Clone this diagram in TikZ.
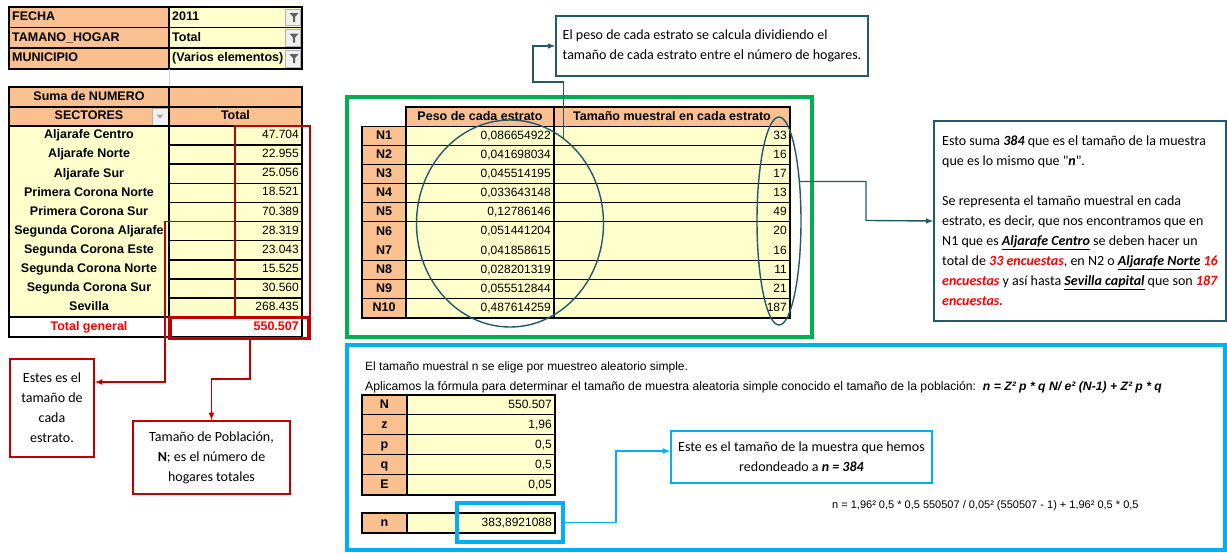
\documentclass[tikz,border=0pt]{standalone}
\usepackage{fontspec}
\setmainfont{Liberation Sans}
\newfontfamily\calibri{Carlito}
\usetikzlibrary{positioning}
\usetikzlibrary{shapes.geometric}
\definecolor{CellOrange}{HTML}{FAC090}
\definecolor{CellYellow}{HTML}{FFFFCC}
\definecolor{DarkRed}{HTML}{C00000}
\definecolor{DarkTeal}{HTML}{24596B}
\definecolor{FrameGreen}{HTML}{00B050}
\definecolor{FrameBlue}{HTML}{00B0F0}
\definecolor{LightRed}{HTML}{FF0000}
\newcommand{\redenc}[1]{\textcolor{LightRed}{\textbf{\textit{#1}}}}
\newcommand{\zona}[1]{\underline{\textbf{\textit{#1}}}}
\tikzset{
  val/.style={anchor=east, inner sep=1pt, text height=8.6pt, text depth=2.4pt,
    font=\fontsize{12}{12}\selectfont},
  lab/.style={inner sep=1pt, text height=9pt, text depth=2.5pt,
    font=\fontsize{12.5}{13}\selectfont\bfseries},
  rule/.style={line width=1.6pt, black},
  note/.style={draw, line width=1.6pt, inner sep=0pt, align=center,
    font=\calibri\fontsize{14}{20}\selectfont},
  redarrow/.style={DarkRed, line width=1.6pt, -latex},
  tealarrow/.style={DarkTeal, line width=1.4pt, -latex},
  bluearrow/.style={FrameBlue, line width=1.6pt, -latex},
  filterbtn/.style={draw=gray!60, fill=gray!12, line width=0.6pt},
}

\begin{document}
\begin{tikzpicture}[x=1pt,y=-1pt]
  \useasboundingbox (0,0) rectangle (1227,552);

  % filter fields of the pivot table
  \foreach \lab/\val [count=\i from 0] in {FECHA/2011,TAMANO\_HOGAR/Total,MUNICIPIO/(Varios elementos)}
  {
    \fill[CellOrange] (9,7+20.6*\i) rectangle ++(160,20.6);
    \fill[CellYellow] (169,7+20.6*\i) rectangle ++(133,20.6);
    \node[lab, anchor=west] (f-\i) at (11,17.3+20.6*\i) {\lab};
    \node[lab, anchor=west] (v-\i) at (171,17.3+20.6*\i) {\val};
    \draw[filterbtn] (285.5,9+20.6*\i) rectangle ++(15,16.6);
    \fill[gray!75!black] (289.5,13+20.6*\i) -- ++(9,0) -- ++(-3.5,4) -- ++(0,5)
      -- ++(-2,0) -- ++(0,-5) -- cycle;
  }
  \draw[rule] (9,7) rectangle (302,68.8);
  \draw[rule] (9,27.6) -- (302,27.6) (9,48.2) -- (302,48.2) (169,7) -- (169,68.8);
  \draw[gray!35, line width=0.8pt] (169,68.8) -- (169,87);

  % pivot table body
  \fill[CellOrange] (9,87) rectangle (302,126);
  \fill[CellYellow] (9,126) rectangle (302,317);
  \node[lab] (suma) at (89,97) {Suma de NUMERO};
  \node[lab] (sectores) at (89,116.5) {SECTORES};
  \node[lab] (total) at (235.5,116.5) {Total};
  \draw[filterbtn] (152,108.5) rectangle (168,125);
  \fill[gray!70] (156.5,114.5) -- (163.5,114.5) -- (160,118.5) -- cycle;
  \foreach \name/\num [count=\k from 0] in {Aljarafe Centro/47.704,Aljarafe Norte/22.955,
    Aljarafe Sur/25.056,Primera Corona Norte/18.521,Primera Corona Sur/70.389,
    Segunda Corona Aljarafe/28.319,Segunda Corona Este/23.043,Segunda Corona Norte/15.525,
    Segunda Corona Sur/30.560,Sevilla/268.435}
  {
    \node[lab] (s-\k) at (89,135.55+19.1*\k) {\name};
    \node[val] (n-\k) at (300,135.55+19.1*\k) {\num};
    \draw[rule] (169,145.1+19.1*\k) -- (302,145.1+19.1*\k);
  }
  \node[lab, text=LightRed] (totgen) at (89,327) {Total general};
  \node[lab, text=LightRed, anchor=east] (totval) at (300,327) {550.507};
  \draw[rule] (9,87) rectangle (302,337);
  \draw[rule] (9,107) -- (302,107) (9,126) -- (302,126) (9,317) -- (302,317) (169,87) -- (169,337);

  % red frames and their notes
  \node[draw=DarkRed, line width=1.6pt, minimum width=75pt, minimum height=191pt, inner sep=0pt] (sectframe) at (272.5,221.5) {};
  \node[draw=DarkRed, line width=3.5pt, minimum width=139pt, minimum height=21pt, inner sep=0pt] (totframe) at (239.5,328) {};
  \node[note, draw=DarkRed, minimum width=84pt, minimum height=98pt] (estrato) at (52,408) {Estes es el\\tamaño de\\cada\\estrato.};
  \node[note, draw=DarkRed, minimum width=157pt, minimum height=73pt] (poblacion) at (211.5,457.5) {Tamaño de Población,\\\textbf{N}; es el número de\\hogares totales};
  \coordinate (bendA) at (165,382);
  \coordinate (bendB) at (250,379);
  \draw[redarrow] (sectframe.west) -| (bendA) -- (bendA -| estrato.east);
  \draw[redarrow] (bendB |- totframe.south) -- (bendB) -| (poblacion.north);

  % stratum table
  \draw[FrameGreen, line width=3.5pt] (347,97) rectangle (812,337);
  \fill[CellOrange] (406,107) rectangle (790,126.5);
  \node[lab] (h-1) at (480,116.8) {Peso de cada estrato};
  \node[lab] (h-2) at (672,116.8) {Tamaño muestral en cada estrato};
  \foreach \peso/\tam [count=\k] in {{0,086654922}/33,{0,041698034}/16,{0,045514195}/17,
    {0,033643148}/13,{0,12786146}/49,{0,051441204}/20,{0,041858615}/16,
    {0,028201319}/11,{0,055512844}/21,{0,487614259}/187}
  {
    \fill[CellOrange] ({362},{126.5+19.15*(\k-1)}) rectangle ++(44,19.15);
    \fill[CellYellow] ({406},{126.5+19.15*(\k-1)}) rectangle ++(384,19.15);
    \node[lab] (r-\k) at ({384},{136.1+19.15*(\k-1)}) {N\k};
    \node[val] (p-\k) at ({552},{136.1+19.15*(\k-1)}) {\peso};
    \node[val] (t-\k) at ({788},{136.1+19.15*(\k-1)}) {\tam};
    \draw[rule] ({362},{126.5+19.15*\k}) -- ({790},{126.5+19.15*\k});
  }
  \draw[rule] (406,107) rectangle (790,126.5);
  \draw[rule] (362,126.5) rectangle (790,318);
  \draw[rule] (406,126.5) -- (406,318) (554,107) -- (554,318);

  % ellipses and their notes
  \node[draw=DarkTeal, line width=1.4pt, ellipse, minimum width=187pt, minimum height=207pt, inner sep=0pt] (pesoell) at (510,223.5) {};
  \node[draw=DarkTeal, line width=1.4pt, ellipse, minimum width=44pt, minimum height=208pt, inner sep=0pt] (tamell) at (779,221) {};
  \node[note, draw=DarkTeal, align=left, minimum width=312pt, minimum height=60pt] (pesonote) at (712,46)
    {El peso de cada estrato se calcula dividiendo el\\tamaño de cada estrato entre el número de hogares.};
  \node[note, draw=DarkTeal, align=left, minimum width=292pt, minimum height=200pt] (sumanote) at (1080,221)
    {Esto suma \textbf{\textit{384}} que es el tamaño de la muestra\\
     que es lo mismo que "\textbf{\textit{n}}".\\[20pt]
     Se representa el tamaño muestral en cada\\
     estrato, es decir, que nos encontramos que en\\
     N1 que es \zona{Aljarafe Centro} se deben hacer un\\
     total de \redenc{33 encuestas}, en N2 o \zona{Aljarafe Norte} \redenc{16}\\
     \redenc{encuestas} y así hasta \zona{Sevilla capital} que son \redenc{187}\\
     \redenc{encuestas.}};
  \coordinate (bendC) at (533,82);
  \draw[tealarrow] (pesoell.58) |- (bendC) |- (pesonote.west);
  \draw[tealarrow] (tamell.62) -| ++(66,39) -- (sumanote.west);

  % sample size
  \draw[FrameBlue, line width=3.5pt] (347,345) rectangle (1225,549.8);
  \node[anchor=west, inner sep=0pt, font=\fontsize{12}{14}\selectfont] (linea1) at (365,367)
    {El tamaño muestral n se elige por muestreo aleatorio simple.};
  \node[anchor=west, inner sep=0pt, font=\fontsize{12.2}{14}\selectfont] (linea2) at (365,387)
    {Aplicamos la fórmula para determinar el tamaño de muestra aleatoria simple conocido el tamaño de la población:\ \ \textbf{\textit{n = Z² p * q N/ e² (N-1) + Z² p * q}}};
  \foreach \lab/\num [count=\k] in {N/550.507,z/{1,96},p/{0,5},q/{0,5},E/{0,05}}
  {
    \fill[CellOrange] (362,375+20*\k) rectangle ++(45,20);
    \fill[CellYellow] (407,375+20*\k) rectangle ++(148,20);
    \node[lab] (k-\k) at (384.5,385+20*\k) {\lab};
    \node[val] (kv-\k) at (553,385+20*\k) {\num};
    \draw[rule] (362,395+20*\k) -- (555,395+20*\k);
  }
  \draw[rule] (362,395) rectangle (555,495);
  \draw[rule] (407,395) -- (407,495);
  \fill[CellOrange] (362,513) rectangle (407,533);
  \fill[CellYellow] (407,513) rectangle (555,533);
  \node[lab] (nlab) at (384.5,523) {n};
  \node[val] (nval) at (553,523) {383,8921088};
  \draw[rule] (362,513) rectangle (555,533);
  \draw[rule] (407,513) -- (407,533);
  \node[draw=FrameBlue, line width=3.5pt, minimum width=106pt, minimum height=39pt, inner sep=0pt] (nframe) at (510,522.5) {};
  \node[note, draw=FrameBlue, minimum width=261pt, minimum height=52pt] (redondeo) at (801.5,457)
    {Este es el tamaño de la muestra que hemos\\redondeado a \textbf{\textit{n = 384}}};
  \draw[bluearrow] (nframe.east) -- ++(51,0) |- ([yshift=6pt]redondeo.west);
  \node[anchor=west, inner sep=0pt, font=\fontsize{11}{13}\selectfont] (calculo) at (832,506)
    {n = 1,96² 0,5 * 0,5 550507 / 0,05² (550507 - 1) + 1,96² 0,5 * 0,5};

\end{tikzpicture}
\end{document}
